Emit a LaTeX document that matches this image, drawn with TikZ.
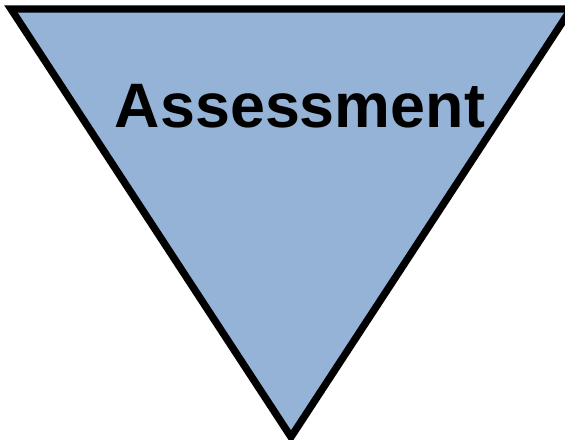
\documentclass[tikz,border=0pt]{standalone}
\usepackage{fontspec}
\setmainfont{Liberation Sans}
\usepackage{tikz}
\usetikzlibrary{positioning}

\definecolor{funnelblue}{RGB}{149,179,215}

\begin{document}
\begin{tikzpicture}[x=0.03cm, y=-0.03cm]
  % page frame, the shape runs off the right and bottom
  \clip (0,0) rectangle (565,439);

  % inverted triangle
  \draw[fill=funnelblue, line width=0.22cm, miter limit=20]
    (11,9) -- (571,9) -- (291,437) -- cycle;

  % label
  \node[font=\bfseries\fontsize{53.6}{60}\selectfont, anchor=base]
    (assess) at (300,127) {Assessment};
\end{tikzpicture}
\end{document}
